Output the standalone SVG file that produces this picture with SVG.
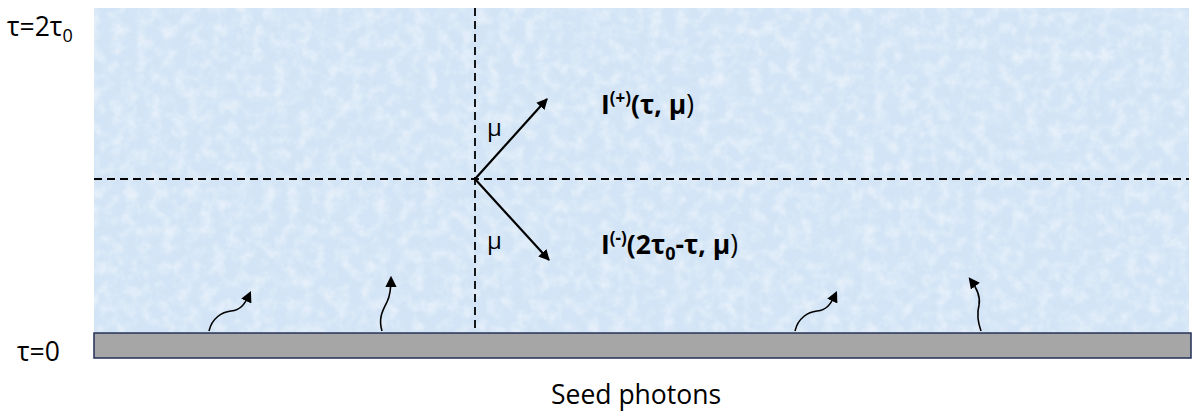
<svg xmlns="http://www.w3.org/2000/svg" width="1200" height="417" viewBox="0 0 1200 417">
<style>
.t{font-family:"Open Sans","Noto Sans",sans-serif;fill:#000}
.b{font-family:"Open Sans","Noto Sans",sans-serif;font-weight:bold;fill:#000}
.dash{stroke:#000;stroke-width:1.8;stroke-dasharray:8 5;fill:none}
.arr{stroke:#000;stroke-width:2.2;fill:none;marker-end:url(#ah)}
.wav{stroke:#000;stroke-width:1.6;fill:none;marker-end:url(#ah2)}
</style>
<defs>
<marker id="ah" viewBox="0 0 10 10" refX="9" refY="5" markerWidth="5" markerHeight="5" orient="auto" markerUnits="strokeWidth"><path d="M0,0 L10,5 L0,10 z" fill="#000"/></marker>
<marker id="ah2" viewBox="0 0 10 10" refX="8" refY="5" markerWidth="7" markerHeight="7" orient="auto" markerUnits="strokeWidth"><path d="M0,0 L10,5 L0,10 z" fill="#000"/></marker>
<filter id="tex" x="0" y="0" width="100%" height="100%">
<feTurbulence type="fractalNoise" baseFrequency="0.08" numOctaves="3" seed="4" result="n"/>
<feColorMatrix in="n" type="matrix" values="0 0 0 0 1  0 0 0 0 1  0 0 0 0 1  0 0 0 0.9 -0.35" result="w"/>
<feComposite in="w" in2="SourceGraphic" operator="in" result="wi"/>
<feMerge><feMergeNode in="SourceGraphic"/><feMergeNode in="wi"/></feMerge>
</filter>
</defs>
<g id="medium">
<rect x="94" y="8" width="1095" height="324" fill="#d2e4f6" filter="url(#tex)"/>
</g>
<g id="ground">
<rect x="94" y="333" width="1097" height="25" fill="#a6a6a6" stroke="#1f2f55" stroke-width="1.5"/>
</g>
<g id="connectors">
<line class="dash" x1="475" y1="8" x2="475" y2="332"/>
<line class="dash" x1="94" y1="179" x2="1189" y2="179"/>
<line class="arr" x1="475" y1="179" x2="547" y2="99"/>
<line class="arr" x1="475" y1="179" x2="549" y2="260"/>
<path class="wav" d="M209,331 C212,318 222,312 231,311 C241,310 245,304 250,293"/>
<path class="wav" d="M382,331 C378,318 383,310 387,302 C391,294 391,286 391,278"/>
<path class="wav" d="M795,331 C798,318 808,312 817,311 C827,310 831,304 836,293"/>
<path class="wav" d="M981,331 C977,320 977,313 979,305 C981,296 976,287 970,279"/>
</g>
<g id="labels">
<text class="t" x="7" y="36" font-size="26.5">τ=2τ<tspan font-size="18" dy="6">0</tspan></text>
<text class="t" x="17" y="361" font-size="26.5">τ=0</text>
<text class="t" x="551" y="404" font-size="26.5">Seed photons</text>
<text class="t" x="487" y="136" font-size="24">μ</text>
<text class="t" x="487" y="249" font-size="24">μ</text>
<text class="b" x="601" y="114" font-size="26.5">I<tspan font-size="17" dy="-10">(+)</tspan><tspan dy="10">(τ, μ</tspan><tspan font-weight="normal">)</tspan></text>
<text class="b" x="601" y="254" font-size="26.5">I<tspan font-size="17" dy="-10">(-)</tspan><tspan dy="10">(2τ</tspan><tspan font-size="18" dy="6">0</tspan><tspan dy="-6">-τ, μ</tspan><tspan font-weight="normal">)</tspan></text>
</g>
</svg>
